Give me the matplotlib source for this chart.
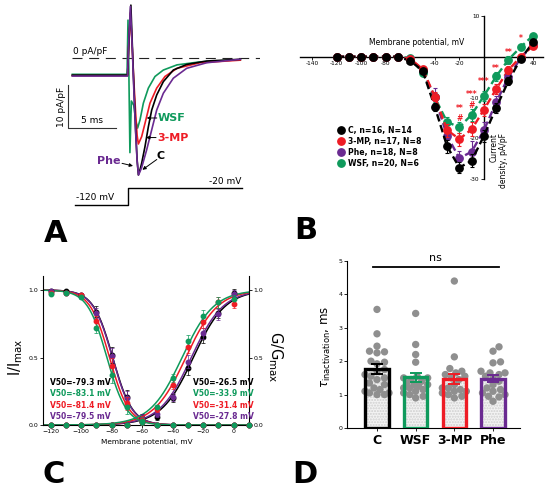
import numpy as np
import matplotlib
matplotlib.use('Agg')
import matplotlib.pyplot as plt
from matplotlib.lines import Line2D

plt.rcParams['font.family'] = ['DejaVu Sans']

COL = {'C': '#000000', '3-MP': '#ee1c25', 'Phe': '#6a2a91', 'WSF': '#0f9a5c'}

# ---------------- Panel A : current traces (t in ms, I in pA/pF) -------------
trC_t = [-5.8, -0.05, 0.1, 0.3, 0.45, 0.6, 0.8, 0.95, 1.08, 1.25, 1.42, 1.77, 2.12, 2.47, 2.99, 3.68, 4.72, 6.11, 8.2, 11.7]
trC_i = [-4.0, -4.0, 4.0, 12.3, 3.0, -6.0, -17.0, -23.7, -27.2, -26.0, -24.5, -20.6, -16.0, -12.1, -8.6, -5.5, -2.8, -1.5, -0.7, -0.3]
trPhe_t = [-5.8, -0.05, 0.1, 0.25, 0.45, 0.6, 0.8, 0.95, 1.1, 1.42, 1.94, 2.47, 2.99, 3.68, 4.72, 6.11, 8.2, 11.7]
trPhe_i = [-4.2, -4.2, 5.0, 12.0, 2.0, -7.0, -17.5, -24.0, -27.2, -25.5, -21.4, -16.7, -12.1, -8.2, -4.7, -2.4, -1.1, -0.3]
trMP_t = [-5.8, -0.05, 0.1, 0.25, 0.45, 0.6, 0.8, 0.95, 1.08, 1.42, 1.77, 2.29, 2.99, 3.85, 5.1, 7.5, 11.7]
trMP_i = [-4.1, -4.1, 4.0, 10.5, 2.0, -5.0, -13.0, -18.0, -20.0, -18.3, -15.2, -10.5, -7.0, -4.3, -2.4, -1.1, -0.5]
trWSF_t = [-5.8, -0.1, 0.0, 0.1, 0.2, 0.35, 0.6, 0.8, 1.0, 1.25, 1.6, 2.12, 2.81, 3.68, 5.1, 7.5, 11.7]
trWSF_i = [-3.8, -3.8, 8.8, -5.0, -22.0, -10.0, -11.0, -14.5, -16.3, -14.4, -10.5, -7.0, -4.3, -2.8, -1.6, -0.9, -0.4]
prot_t = [-5.5, 0.0, 0.0, 11.9]
prot_v = [-120, -120, -20, -20]

# ---------------- Panel B : I-V ----------------------------------------------
V_B = [-120, -110, -100, -90, -80, -70, -60, -50, -40, -30, -20, -10, 0, 10, 20, 30, 40]
iv_C = [0, 0, 0, 0, 0, 0, -1.0, -3.4, -12.3, -22.0, -27.2, -25.5, -19.4, -12.5, -5.9, -0.5, 3.5]
iv_MP = [0, 0, 0, 0, 0, 0, -0.5, -3.0, -9.8, -18.0, -20.2, -17.8, -13.0, -7.9, -3.2, 0.0, 2.7]
iv_Phe = [0, 0, 0, 0, 0, 0, -0.6, -3.2, -10.0, -19.4, -24.9, -23.3, -18.0, -11.2, -4.9, -0.3, 3.0]
iv_WSF = [0, 0, 0, 0, 0, 0, -0.3, -3.9, -10.0, -16.0, -17.3, -14.2, -9.6, -4.8, -0.7, 2.4, 5.2]
err_C = [0, 0, 0, 0, 0, 0, 0.2, 0.4, 1.0, 1.5, 1.4, 1.6, 1.5, 1.2, 1.0, 0.6, 0.5]
err_MP = [0, 0, 0, 0, 0, 0, 0.2, 0.4, 1.1, 1.6, 1.6, 1.7, 1.5, 1.3, 1.0, 0.6, 0.5]
err_Phe = [0, 0, 0, 0, 0, 0, 0.2, 0.4, 2.3, 1.9, 1.8, 2.6, 2.0, 1.5, 1.1, 0.6, 0.5]
err_WSF = [0, 0, 0, 0, 0, 0, 0.2, 0.4, 1.0, 1.3, 1.3, 1.5, 1.3, 1.1, 0.9, 0.6, 0.5]
legend_B = ['C, n=16, N=14', '3-MP, n=17, N=8', 'Phe, n=18, N=8', 'WSF, n=20, N=6']
sig_V = [30, 20, 10, 0, -10, -20]
sig_txt = ['*', '**', '**', '***', '***', '**']
sig_y = [4.4, 1.0, -3.0, -6.0, -9.3, -12.6]
hash_V = [-10, -20]
hash_y = [-11.9, -15.1]

# ---------------- Panel C : activation / inactivation ------------------------
V_C = [-120, -110, -100, -90, -80, -70, -60, -50, -40, -30, -20, -10, 0, 10]
inact_C = [0.99, 0.99, 0.96, 0.84, 0.52, 0.21, 0.05, 0, 0, 0, 0, 0, 0, 0]
inact_WSF = [0.97, 0.98, 0.95, 0.72, 0.37, 0.13, 0.03, 0, 0, 0, 0, 0, 0, 0]
inact_MP = [0.98, 0.98, 0.96, 0.77, 0.44, 0.16, 0.04, 0, 0, 0, 0, 0, 0, 0]
inact_Phe = [0.99, 0.98, 0.96, 0.83, 0.51, 0.20, 0.05, 0, 0, 0, 0, 0, 0, 0]
inact_err = [0.01, 0.01, 0.02, 0.04, 0.06, 0.05, 0.03, 0, 0, 0, 0, 0, 0, 0]
act_C = [0, 0, 0, 0, 0, 0, 0.03, 0.06, 0.20, 0.42, 0.65, 0.83, 0.98, 0]
act_WSF = [0, 0, 0, 0, 0, 0, 0.02, 0.13, 0.35, 0.62, 0.81, 0.91, 0.93, 0]
act_MP = [0, 0, 0, 0, 0, 0, 0.02, 0.12, 0.30, 0.58, 0.76, 0.91, 0.90, 0]
act_Phe = [0, 0, 0, 0, 0, 0, 0.02, 0.08, 0.21, 0.47, 0.68, 0.82, 0.97, 0]
act_err = [0, 0, 0, 0, 0, 0, 0.01, 0.02, 0.03, 0.05, 0.04, 0.04, 0.03, 0]
V50_inact = {'C': -79.3, 'WSF': -83.1, '3-MP': -81.4, 'Phe': -79.5}
V50_act = {'C': -26.5, 'WSF': -33.9, '3-MP': -31.4, 'Phe': -27.8}
k_inact = 6.4
k_act = 10.5

# ---------------- Panel D : tau inactivation ---------------------------------
groups_D = ['C', 'WSF', '3-MP', 'Phe']
mean_D = [1.77, 1.52, 1.47, 1.48]
sem_D = [0.14, 0.14, 0.16, 0.11]
pts_C = [3.55, 2.82, 2.45, 2.3, 2.28, 2.25, 2.0, 1.97, 1.92, 1.75, 1.7, 1.6, 1.55, 1.5, 1.45, 1.35, 1.3, 1.2, 1.15, 1.1, 1.05, 1.05, 1.0, 1.0]
pts_WSF = [3.43, 2.5, 2.2, 1.97, 1.55, 1.5, 1.5, 1.45, 1.4, 1.35, 1.3, 1.3, 1.25, 1.2, 1.2, 1.15, 1.1, 1.05, 1.0, 0.95, 0.9]
pts_MP = [4.4, 2.13, 1.78, 1.7, 1.65, 1.6, 1.55, 1.5, 1.45, 1.3, 1.2, 1.2, 1.15, 1.1, 1.1, 1.05, 1.0, 0.95, 0.9]
pts_Phe = [2.43, 2.3, 1.98, 1.95, 1.7, 1.65, 1.65, 1.6, 1.55, 1.5, 1.4, 1.3, 1.2, 1.15, 1.1, 1.05, 1.0, 0.95, 0.93, 0.8]

# =============================================================================
W, H = 550, 490
fig = plt.figure(figsize=(W / 100, H / 100), dpi=100)


def add_ax(l, t, r, b):
    return fig.add_axes([l / W, 1 - b / H, (r - l) / W, (b - t) / H])


def ftext(x, y, s, **kw):
    return fig.text(x / W, 1 - y / H, s, **kw)


# ---------------- A ----------------------------------------------------------
axA = add_ax(55, 0, 260, 182)
axA.set_xlim((55 - 128) / 9.6, (260 - 128) / 9.6)
axA.set_ylim((58 - 182) / 4.3, 58 / 4.3)
axA.axis('off')
axA.axhline(0, xmin=(72 - 55) / 205, xmax=1, color='#222222', lw=0.8, ls=(0, (9, 6)))
for tt, ii, c in [(trWSF_t, trWSF_i, COL['WSF']), (trMP_t, trMP_i, COL['3-MP']),
                  (trC_t, trC_i, COL['C']), (trPhe_t, trPhe_i, COL['Phe'])]:
    axA.plot(tt, ii, color=c, lw=1.2, solid_joinstyle='round')
# scale bars
axA.plot([-6.25, -6.25, -1.25], [-6.28, -16.28, -16.28], color='#333333', lw=0.8)
axA.text(-3.75, -15.6, '5 ms', ha='center', va='bottom', fontsize=6.5)
axA.text(-6.9, -11.28, '10 pA/pF', ha='center', va='center', rotation=90, fontsize=6.5)
axA.text(-5.7, 0.4, '0 pA/pF', ha='left', va='bottom', fontsize=6.5)
arrow = dict(arrowstyle='-|>', lw=0.7, color='black', mutation_scale=5, shrinkA=0, shrinkB=0)
axA.annotate('', xy=(1.95, -13.95), xytext=(3.0, -13.95), arrowprops=arrow)
axA.text(3.12, -13.95, 'WSF', color=COL['WSF'], fontsize=8, fontweight='bold', ha='left', va='center')
axA.annotate('', xy=(1.88, -18.5), xytext=(2.92, -18.5), arrowprops=arrow)
axA.text(3.02, -18.5, '3-MP', color=COL['3-MP'], fontsize=8, fontweight='bold', ha='left', va='center')
axA.annotate('', xy=(0.52, -25.1), xytext=(-0.62, -24.5), arrowprops=arrow)
axA.text(-0.8, -24.0, 'Phe', color=COL['Phe'], fontsize=8, fontweight='bold', ha='right', va='center')
axA.annotate('', xy=(1.5, -26.0), xytext=(3.0, -23.6), arrowprops=arrow)
axA.text(3.4, -22.9, 'C', color='black', fontsize=8, fontweight='bold', ha='center', va='center')

axV = add_ax(55, 180, 260, 215)
axV.set_xlim((55 - 128) / 9.6, (260 - 128) / 9.6)
axV.set_ylim(-120 - 10 / 0.17, -20 + 8 / 0.17)
axV.axis('off')
axV.plot(prot_t, prot_v, color='black', lw=1.0)
ftext(76, 197, '-120 mV', fontsize=6.5, ha='left', va='center')
ftext(241, 181, '-20 mV', fontsize=6.5, ha='right', va='center')

# ---------------- B ----------------------------------------------------------
axB = add_ax(300, 16, 543, 179)
axB.set_xlim(-149.8, 48.1)
axB.set_ylim(-30, 10)
axB.set_axisbelow(True)
for s in ['top', 'right']:
    axB.spines[s].set_visible(False)
axB.spines['left'].set_position(('data', 0))
axB.spines['bottom'].set_position(('data', 0))
for s in ['left', 'bottom']:
    axB.spines[s].set_linewidth(1.0)
xt = list(range(-140, 41, 20))
axB.set_xticks(xt)
axB.set_xticklabels([str(v) if v != 0 else '' for v in xt])
axB.set_yticks([-30, -20, -10, 0, 10])
axB.set_yticklabels(['-30', '-20', '-10', '', '10'])
axB.tick_params(labelsize=4.2, length=2, width=0.6, pad=1.2)
seriesB = [('WSF', iv_WSF, err_WSF), ('Phe', iv_Phe, err_Phe), ('3-MP', iv_MP, err_MP), ('C', iv_C, err_C)]
for i, (name, vals, err) in enumerate(seriesB):
    c = COL[name]
    axB.plot(V_B, vals, color=c, lw=1.7, ls=(0, (3.2, 1.6)), zorder=3 + i * 0.1, clip_on=False)
    axB.errorbar(V_B, vals, yerr=err, fmt='o', color=c, ms=5.3, mec=c, capsize=1.6,
                 elinewidth=0.8, capthick=0.8, zorder=3.05 + i * 0.1, clip_on=False)
for v, t, y in zip(sig_V, sig_txt, sig_y):
    axB.text(v, y, t, color=COL['3-MP'], fontsize=5.5, fontweight='bold', ha='center', va='center')
for v, y in zip(hash_V, hash_y):
    axB.text(v, y, '#', color=COL['3-MP'], fontsize=5.5, fontweight='bold', ha='center', va='center')
axB.text(-55, 2.4, 'Membrane potential, mV', fontsize=5.5, ha='center', va='bottom')
ftext(499, 133, 'Current\ndensity, pA/pF', fontsize=5.5, rotation=90, ha='center', va='top',
      multialignment='right', linespacing=1.1)
handles = [Line2D([], [], ls='none', marker='o', ms=5.3, color=COL[n]) for n in ['C', '3-MP', 'Phe', 'WSF']]
leg = fig.legend(handles, legend_B, loc='upper left', bbox_to_anchor=(338 / W, 1 - 126 / H),
                 frameon=False, prop={'size': 5.6, 'weight': 'bold'}, handlelength=0.8,
                 handletextpad=0.5, labelspacing=0.25, borderpad=0, borderaxespad=0)

# ---------------- C ----------------------------------------------------------
axC = add_ax(43, 276.5, 249, 425)
axC.set_xlim(-125, 10)
axC.set_ylim(0, 1.1)
axC.spines['top'].set_visible(False)
for s in ['left', 'right', 'bottom']:
    axC.spines[s].set_linewidth(0.8)
axC.set_xticks([-120, -100, -80, -60, -40, -20, 0])
axC.set_yticks([0, 0.5, 1.0])
axC.set_yticklabels(['0.0', '0.5', '1.0'])
axC.tick_params(labelsize=4.5, length=2, width=0.6, pad=1.2, right=True, labelright=True)
Vfit = np.linspace(-125, 10, 300)
order = ['C', 'Phe', '3-MP', 'WSF']
inact = {'C': inact_C, 'WSF': inact_WSF, '3-MP': inact_MP, 'Phe': inact_Phe}
act = {'C': act_C, 'WSF': act_WSF, '3-MP': act_MP, 'Phe': act_Phe}
for i, n in enumerate(order):
    c = COL[n]
    axC.plot(Vfit, 1 / (1 + np.exp((Vfit - V50_inact[n]) / k_inact)), color=c, lw=1.1, zorder=2 + i * 0.1)
    axC.plot(Vfit, 1 / (1 + np.exp((V50_act[n] - Vfit) / k_act)), color=c, lw=1.1, zorder=2 + i * 0.1)
for i, n in enumerate(['C', 'Phe', '3-MP', 'WSF']):
    c = COL[n]
    axC.errorbar(V_C, inact[n], yerr=inact_err, fmt='o', color=c, ms=3.2, capsize=1.2,
                 elinewidth=0.5, capthick=0.5, zorder=3 + i * 0.1, clip_on=False)
    axC.errorbar(V_C[:-1], act[n][:-1], yerr=act_err[:-1], fmt='o', color=c, ms=3.2, capsize=1.2,
                 elinewidth=0.5, capthick=0.5, zorder=3 + i * 0.1, clip_on=False)
axC.text(-57, -0.105, 'Membrane potential, mV', fontsize=5.3, ha='center', va='top')
ys = [382, 393.5, 405, 416.5]
for y, n in zip(ys, ['C', 'WSF', '3-MP', 'Phe']):
    ftext(50, y, 'V50=%.1f mV' % V50_inact[n], color=COL[n], fontsize=5.5, fontweight='bold', va='center')
    ftext(193, y, 'V50=%.1f mV' % V50_act[n], color=COL[n], fontsize=5.5, fontweight='bold', va='center')
ftext(16, 357, r'I/I$_{\mathrm{max}}$', fontsize=10.5, rotation=90, ha='center', va='center')
ftext(275, 357, r'G/G$_{\mathrm{max}}$', fontsize=10.5, rotation=270, ha='center', va='center')

# ---------------- D ----------------------------------------------------------
axD = add_ax(347, 261, 520, 428)
axD.set_xlim((347 - 377) / 38.67, (520 - 377) / 38.67)
axD.set_ylim(0, 5)
for s in ['top', 'right']:
    axD.spines[s].set_visible(False)
for s in ['left', 'bottom']:
    axD.spines[s].set_linewidth(0.8)
xD = np.arange(len(groups_D))
axD.set_xticks(xD)
axD.set_xticklabels(groups_D, fontsize=9, fontweight='bold')
axD.set_yticks([0, 1, 2, 3, 4, 5])
axD.tick_params(axis='y', labelsize=4.5, length=2, width=0.6, pad=1.2)
axD.tick_params(axis='x', length=2, width=0.6, pad=2)
colsD = [COL[g] for g in groups_D]
axD.bar(xD, mean_D, width=0.6, color='#f3f3f3', edgecolor='#cfcfcf', hatch='......', lw=0, zorder=1)
pts_all = [pts_C, pts_WSF, pts_MP, pts_Phe]
px_x, px_y = 38.67, 33.4
diam = 6.3
cands = [0.0]
for k in range(1, 9):
    cands += [k * 1.5, -k * 1.5]
for xi, vals in zip(xD, pts_all):
    placed = []
    for v in sorted(vals):
        best, bestd = 0.0, -1
        for off in cands:
            d = min([np.hypot(off - po, (v - pv) * px_y) for po, pv in placed] + [99])
            if d >= diam:
                best = off
                break
            if d > bestd:
                best, bestd = off, d
        placed.append((best, v))
    axD.scatter([xi + p[0] / px_x for p in placed], [p[1] for p in placed], s=28,
                color='#8f8f8f', edgecolors='none', zorder=2, clip_on=False)
axD.bar(xD, mean_D, width=0.6, fill=False, edgecolor=colsD, lw=2.4, zorder=3)
for xi, m, e, c in zip(xD, mean_D, sem_D, colsD):
    axD.errorbar([xi], [m], yerr=[e], color=c, capsize=4, elinewidth=1.4, capthick=1.4, zorder=4)
axD.plot([-0.1, 3.15], [4.82, 4.82], color='black', lw=1.3, clip_on=False)
axD.text(1.52, 4.95, 'ns', fontsize=8, ha='center', va='bottom')
ftext(326, 347, r'$\tau_{\mathrm{inactivation}}$, ms', fontsize=8.5, rotation=90, ha='center', va='center')

# ---------------- panel letters ---------------------------------------------
for x, y, s in [(56, 234, 'A'), (306, 230, 'B'), (54, 474, 'C'), (305, 474, 'D')]:
    ftext(x, y, s, fontsize=22, fontweight='bold', ha='center', va='center')

fig.savefig('out.png', dpi=100)
